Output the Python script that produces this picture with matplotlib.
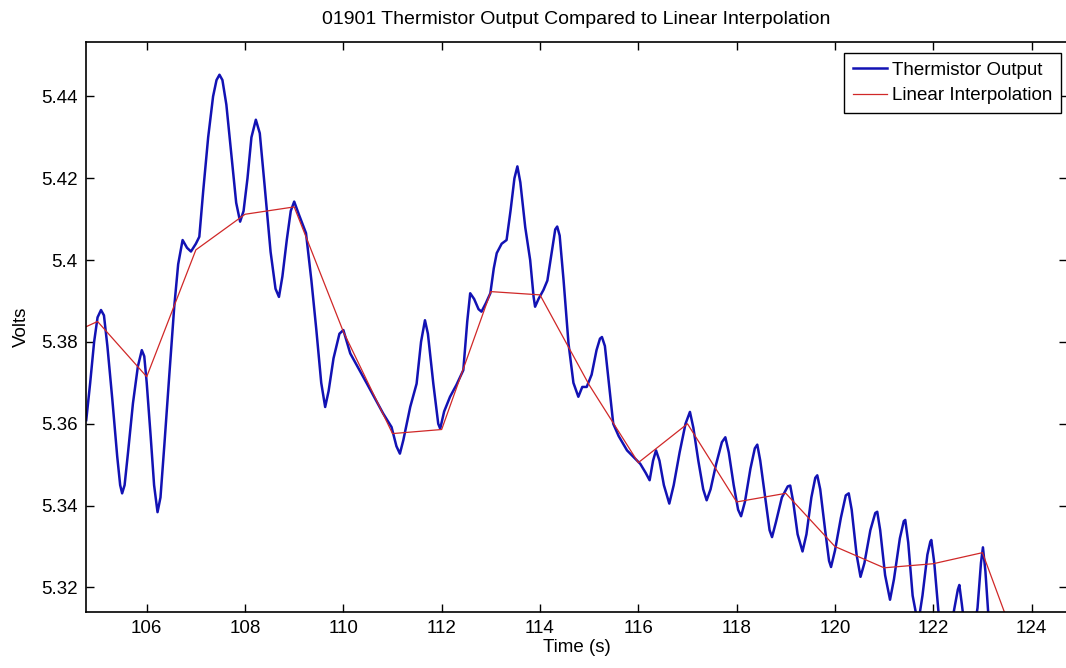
import matplotlib
matplotlib.use("Agg")
import matplotlib.pyplot as plt

# thermistor output (peaks, troughs and the slopes between)
t_therm = [104.77, 104.85, 104.93, 105.00, 105.07, 105.13, 105.20, 105.30, 105.40, 105.46,
           105.50, 105.55, 105.62, 105.72, 105.82, 105.90, 105.95, 106.00, 106.08, 106.15,
           106.22, 106.28, 106.36, 106.46, 106.56, 106.64, 106.73, 106.82, 106.90, 107.00,
           107.07, 107.15, 107.25, 107.35, 107.42, 107.48, 107.54, 107.62, 107.72, 107.82,
           107.90, 107.97, 108.05, 108.13, 108.22, 108.30, 108.40, 108.52, 108.62, 108.69,
           108.76, 108.85, 108.93, 109.00, 109.10, 109.24, 109.35, 109.45, 109.55, 109.63,
           109.70, 109.80, 109.92, 110.00, 110.14, 110.48, 110.81, 110.98, 111.08, 111.15,
           111.22, 111.36, 111.49, 111.58, 111.66, 111.72, 111.83, 111.93, 111.97, 112.05,
           112.17, 112.30, 112.44, 112.52, 112.58, 112.66, 112.75, 112.81, 112.90, 112.99,
           113.06, 113.12, 113.22, 113.32, 113.40, 113.48, 113.54, 113.60, 113.70, 113.80,
           113.87, 113.90, 113.97, 114.07, 114.15, 114.24, 114.31, 114.35, 114.40, 114.48,
           114.58, 114.68, 114.78, 114.86, 114.95, 115.05, 115.15, 115.22, 115.26, 115.32,
           115.40, 115.49, 115.60, 115.77, 116.04, 116.15, 116.23, 116.30, 116.36, 116.43,
           116.52, 116.63, 116.72, 116.84, 116.96, 117.05, 117.12, 117.22, 117.32, 117.39,
           117.47, 117.58, 117.70, 117.77, 117.84, 117.94, 118.03, 118.09, 118.17, 118.28,
           118.37, 118.42, 118.48, 118.58, 118.67, 118.72, 118.80, 118.92, 119.04, 119.09,
           119.15, 119.24, 119.34, 119.42, 119.52, 119.60, 119.64, 119.70, 119.80, 119.88,
           119.92, 120.00, 120.12, 120.22, 120.28, 120.34, 120.44, 120.52, 120.60, 120.72,
           120.82, 120.86, 120.92, 121.02, 121.12, 121.20, 121.32, 121.40, 121.43, 121.49,
           121.58, 121.69, 121.78, 121.88, 121.94, 121.96, 122.02, 122.12, 122.25, 122.40,
           122.50, 122.53, 122.58, 122.66, 122.77, 122.90, 122.97, 123.01, 123.06, 123.15,
           123.25]
v_therm = [5.3609, 5.3700, 5.3800, 5.3860, 5.3878, 5.3865, 5.3790, 5.3660, 5.3520, 5.3450,
           5.3430, 5.3450, 5.3530, 5.3650, 5.3740, 5.3780, 5.3765, 5.3700, 5.3570, 5.3450,
           5.3384, 5.3420, 5.3550, 5.3720, 5.3886, 5.3990, 5.4049, 5.4030, 5.4021, 5.4040,
           5.4057, 5.4170, 5.4300, 5.4400, 5.4440, 5.4453, 5.4440, 5.4380, 5.4260, 5.4140,
           5.4094, 5.4120, 5.4200, 5.4300, 5.4343, 5.4310, 5.4180, 5.4020, 5.3930, 5.3910,
           5.3960, 5.4050, 5.4120, 5.4143, 5.4110, 5.4066, 5.3950, 5.3830, 5.3700, 5.3641,
           5.3680, 5.3760, 5.3820, 5.3829, 5.3772, 5.3698, 5.3625, 5.3592, 5.3545, 5.3527,
           5.3560, 5.3641, 5.3698, 5.3800, 5.3853, 5.3820, 5.3698, 5.3600, 5.3588, 5.3630,
           5.3666, 5.3695, 5.3731, 5.3850, 5.3919, 5.3905, 5.3880, 5.3874, 5.3895, 5.3919,
           5.3980, 5.4017, 5.4040, 5.4049, 5.4120, 5.4200, 5.4229, 5.4190, 5.4080, 5.4000,
           5.3910, 5.3886, 5.3905, 5.3927, 5.3950, 5.4020, 5.4075, 5.4082, 5.4060, 5.3950,
           5.3796, 5.3700, 5.3666, 5.3690, 5.3690, 5.3720, 5.3780, 5.3808, 5.3812, 5.3790,
           5.3700, 5.3600, 5.3570, 5.3535, 5.3502, 5.3480, 5.3462, 5.3510, 5.3535, 5.3510,
           5.3450, 5.3405, 5.3450, 5.3530, 5.3600, 5.3629, 5.3590, 5.3510, 5.3440, 5.3413,
           5.3440, 5.3500, 5.3555, 5.3567, 5.3530, 5.3450, 5.3390, 5.3374, 5.3410, 5.3490,
           5.3540, 5.3549, 5.3510, 5.3420, 5.3340, 5.3323, 5.3360, 5.3420, 5.3447, 5.3449,
           5.3410, 5.3330, 5.3288, 5.3330, 5.3420, 5.3468, 5.3474, 5.3440, 5.3340, 5.3265,
           5.3250, 5.3290, 5.3370, 5.3425, 5.3430, 5.3390, 5.3280, 5.3226, 5.3260, 5.3340,
           5.3382, 5.3385, 5.3340, 5.3230, 5.3170, 5.3220, 5.3320, 5.3362, 5.3365, 5.3310,
           5.3180, 5.3110, 5.3180, 5.3280, 5.3312, 5.3316, 5.3260, 5.3120, 5.3050, 5.3130,
           5.3195, 5.3206, 5.3160, 5.3080, 5.3050, 5.3150, 5.3260, 5.3298, 5.3240, 5.3080,
           5.3000]

# linear interpolation, one point per second
t_interp = [104, 105, 106, 107, 108, 109, 110, 111, 112, 113, 114, 115, 116,
            117, 118, 119, 120, 121, 122, 123, 124]
v_interp = [5.3795, 5.3850, 5.3715, 5.4025, 5.4112, 5.4130, 5.3825, 5.3576,
            5.3586, 5.3923, 5.3915, 5.3695, 5.3505, 5.3600, 5.3409, 5.3430,
            5.3300, 5.3248, 5.3258, 5.3285, 5.2960]

xticks = [106, 108, 110, 112, 114, 116, 118, 120, 122, 124]
yticks = [5.32, 5.34, 5.36, 5.38, 5.40, 5.42, 5.44]
ytick_labels = ["5.32", "5.34", "5.36", "5.38", "5.4", "5.42", "5.44"]

plt.rcParams["font.family"] = ["Liberation Sans", "DejaVu Sans"]
fs = 13.5

fig = plt.figure(figsize=(10.66, 6.68), dpi=100)
ax = fig.add_axes([86 / 1066, 1 - 612 / 668, 981 / 1066, 570 / 668])

ax.plot(t_therm, v_therm, color="#1212b4", lw=1.8, label="Thermistor Output")
ax.plot(t_interp, v_interp, color="#d02828", lw=0.9, label="Linear Interpolation")

ax.set_xlim(104.765, 124.72)
ax.set_ylim(5.3140, 5.4533)
ax.set_xticks(xticks)
ax.set_yticks(yticks)
ax.set_yticklabels(ytick_labels)
ax.tick_params(direction="in", length=6, width=1, top=True, right=True,
               labelsize=fs, pad=6)
for s in ax.spines.values():
    s.set_linewidth(1.2)

ax.set_title("01901 Thermistor Output Compared to Linear Interpolation",
             fontsize=14, pad=13)
ax.set_xlabel("Time (s)", fontsize=fs, labelpad=1)
ax.set_ylabel("Volts", fontsize=fs, labelpad=8)

leg = ax.legend(loc="upper right", bbox_to_anchor=(1061 / 1066, 1 - 53 / 668),
                bbox_transform=fig.transFigure, fancybox=False, framealpha=1,
                edgecolor="black", fontsize=13.5, handlelength=1.8,
                handletextpad=0.3, borderpad=0.45, labelspacing=0.45,
                borderaxespad=0)
leg.get_frame().set_linewidth(1.0)

fig.savefig("out.png", dpi=100)
